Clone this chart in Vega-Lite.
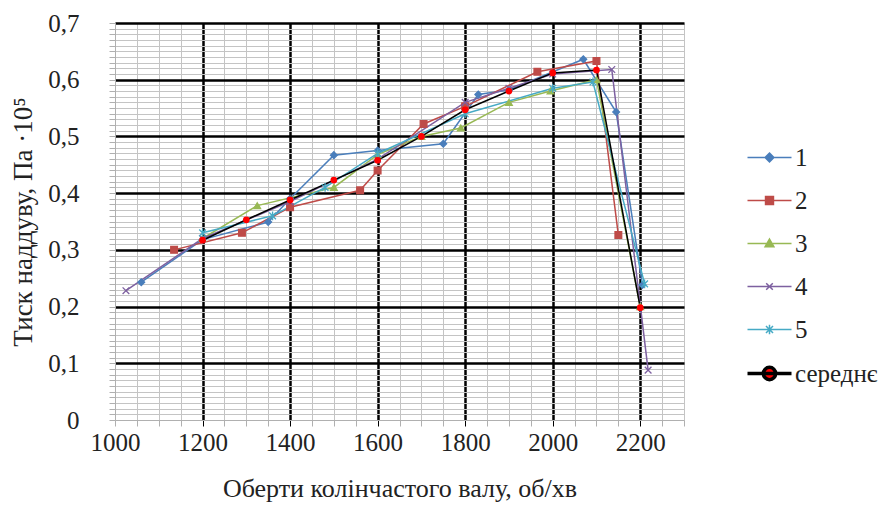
{
  "$schema": "https://vega.github.io/schema/vega-lite/v6.json",
  "autosize": "none",
  "width": 569,
  "height": 397,
  "padding": {"left": 115, "top": 23, "right": 204, "bottom": 97},
  "background": "white",
  "config": {
    "view": {"stroke": null},
    "font": "Liberation Serif",
    "axis": {"labelFont": "Liberation Serif", "titleFont": "Liberation Serif", "labelColor": "#222", "titleColor": "#222", "titleFontWeight": "normal"},
    "legend": {"labelFont": "Liberation Serif"}
  },
  "data": {
    "values": [
      {"series": "1", "rpm": 1060, "p": 0.243},
      {"series": "1", "rpm": 1200, "p": 0.318},
      {"series": "1", "rpm": 1350, "p": 0.349},
      {"series": "1", "rpm": 1400, "p": 0.39},
      {"series": "1", "rpm": 1500, "p": 0.467},
      {"series": "1", "rpm": 1600, "p": 0.475},
      {"series": "1", "rpm": 1750, "p": 0.487},
      {"series": "1", "rpm": 1830, "p": 0.574},
      {"series": "1", "rpm": 1900, "p": 0.582},
      {"series": "1", "rpm": 2070, "p": 0.636},
      {"series": "1", "rpm": 2145, "p": 0.543},
      {"series": "1", "rpm": 2205, "p": 0.238},
      {"series": "2", "rpm": 1135, "p": 0.30},
      {"series": "2", "rpm": 1290, "p": 0.33},
      {"series": "2", "rpm": 1400, "p": 0.375},
      {"series": "2", "rpm": 1560, "p": 0.405},
      {"series": "2", "rpm": 1600, "p": 0.44},
      {"series": "2", "rpm": 1705, "p": 0.522},
      {"series": "2", "rpm": 1800, "p": 0.553},
      {"series": "2", "rpm": 1965, "p": 0.614},
      {"series": "2", "rpm": 2100, "p": 0.633},
      {"series": "2", "rpm": 2150, "p": 0.326},
      {"series": "3", "rpm": 1200, "p": 0.32},
      {"series": "3", "rpm": 1325, "p": 0.378},
      {"series": "3", "rpm": 1500, "p": 0.41},
      {"series": "3", "rpm": 1600, "p": 0.468},
      {"series": "3", "rpm": 1700, "p": 0.5},
      {"series": "3", "rpm": 1790, "p": 0.515},
      {"series": "3", "rpm": 1900, "p": 0.56},
      {"series": "3", "rpm": 1995, "p": 0.58},
      {"series": "3", "rpm": 2100, "p": 0.6},
      {"series": "3", "rpm": 2200, "p": 0.2},
      {"series": "4", "rpm": 1025, "p": 0.228},
      {"series": "4", "rpm": 1200, "p": 0.32},
      {"series": "4", "rpm": 1400, "p": 0.385},
      {"series": "4", "rpm": 1600, "p": 0.46},
      {"series": "4", "rpm": 1800, "p": 0.56},
      {"series": "4", "rpm": 1900, "p": 0.585},
      {"series": "4", "rpm": 2000, "p": 0.61},
      {"series": "4", "rpm": 2135, "p": 0.618},
      {"series": "4", "rpm": 2218, "p": 0.088},
      {"series": "5", "rpm": 1200, "p": 0.33},
      {"series": "5", "rpm": 1360, "p": 0.36},
      {"series": "5", "rpm": 1480, "p": 0.41},
      {"series": "5", "rpm": 1600, "p": 0.47},
      {"series": "5", "rpm": 1800, "p": 0.54},
      {"series": "5", "rpm": 2000, "p": 0.585},
      {"series": "5", "rpm": 2092, "p": 0.596},
      {"series": "5", "rpm": 2210, "p": 0.24},
      {"series": "середнє", "rpm": 1200, "p": 0.317},
      {"series": "середнє", "rpm": 1300, "p": 0.353},
      {"series": "середнє", "rpm": 1400, "p": 0.388},
      {"series": "середнє", "rpm": 1500, "p": 0.423},
      {"series": "середнє", "rpm": 1600, "p": 0.458},
      {"series": "середнє", "rpm": 1700, "p": 0.5},
      {"series": "середнє", "rpm": 1800, "p": 0.547},
      {"series": "середнє", "rpm": 1900, "p": 0.58},
      {"series": "середнє", "rpm": 2000, "p": 0.612},
      {"series": "середнє", "rpm": 2100, "p": 0.617},
      {"series": "середнє", "rpm": 2200, "p": 0.198}
    ]
  },
  "encoding": {
    "x": {
      "field": "rpm", "type": "quantitative",
      "scale": {"domain": [1000, 2300], "nice": false, "zero": false},
      "axis": {
        "title": "Оберти колінчастого валу, об/хв",
        "titleFontSize": 26, "titlePadding": 20,
        "values": [1000,1050,1100,1150,1200,1250,1300,1350,1400,1450,1500,1550,1600,1650,1700,1750,1800,1850,1900,1950,2000,2050,2100,2150,2200,2250,2300],
        "labelExpr": "datum.value % 200 === 0 ? datum.label : ''",
        "labelFontSize": 25, "labelPadding": 4,
        "labelFlush": false,
        "format": "d",
        "grid": true,
        "gridColor": {"condition": {"test": "datum.value % 200 === 0 && datum.value !== 1000", "value": "#000000"}, "value": "#c4c4c4"},
        "gridWidth": {"condition": {"test": "datum.value % 200 === 0 && datum.value !== 1000", "value": 2.5}, "value": 1},
        "tickColor": {"condition": {"test": "datum.value % 200 === 0 && datum.value !== 1000", "value": "#000000"}, "value": "#b0b0b0"},
        "tickSize": 6,
        "domainColor": "#b0b0b0",
        "labelOverlap": false
      }
    },
    "y": {
      "field": "p", "type": "quantitative",
      "scale": {"domain": [0, 0.7], "nice": false},
      "axis": {
        "title": "Тиск наддуву, Па ·10⁵",
        "titleFontSize": 27, "titlePadding": 10,
        "values": [0,0.01,0.02,0.03,0.04,0.05,0.06,0.07,0.08,0.09,0.1,0.11,0.12,0.13,0.14,0.15,0.16,0.17,0.18,0.19,0.2,0.21,0.22,0.23,0.24,0.25,0.26,0.27,0.28,0.29,0.3,0.31,0.32,0.33,0.34,0.35,0.36,0.37,0.38,0.39,0.4,0.41,0.42,0.43,0.44,0.45,0.46,0.47,0.48,0.49,0.5,0.51,0.52,0.53,0.54,0.55,0.56,0.57,0.58,0.59,0.6,0.61,0.62,0.63,0.64,0.65,0.66,0.67,0.68,0.69,0.7],
        "labelExpr": "abs(datum.value*10 - round(datum.value*10)) < 0.001 ? (datum.value === 0 ? '0' : replace(format(datum.value, '.1f'), '.', ',')) : ''",
        "labelFontSize": 25, "labelPadding": 30,
        "labelFlush": false,
        "grid": true,
        "gridColor": {"condition": {"test": "abs(datum.value*10 - round(datum.value*10)) < 0.001 && datum.value > 0", "value": "#000000"}, "value": "#c4c4c4"},
        "gridWidth": {"condition": {"test": "abs(datum.value*10 - round(datum.value*10)) < 0.001 && datum.value > 0", "value": 2.5}, "value": 1},
        "tickColor": "#b0b0b0",
        "tickSize": 6,
        "domainColor": "#b0b0b0",
        "labelOverlap": false
      }
    }
  },
  "resolve": {"scale": {"stroke": "independent"}, "legend": {"stroke": "independent"}},
  "layer": [
    {
      "mark": {"type": "line"},
      "encoding": {
        "stroke": {
          "field": "series", "type": "nominal",
          "scale": {"domain": ["1","2","3","4","5","середнє"], "range": ["#4a7ebb","#be4b48","#98b954","#7d60a0","#46aac5","#000000"]},
          "legend": {
            "title": null,
            "orient": "none",
            "legendX": 642,
            "legendY": 122,
            "symbolSize": 1936,
            "symbolStrokeWidth": 1.5,
            "labelFont": "Liberation Serif",
            "labelFontSize": 25,
            "labelOffset": 13,
            "labelColor": "#222",
            "rowPadding": 17,
            "padding": 0,
            "encoding": {
              "symbols": {
                "shape": {"value": {"expr": "datum.value === '1' ? 'M-1,0H1M0,-0.2L0.2,0L0,0.2L-0.2,0Z' : datum.value === '2' ? 'M-1,0H1M-0.18,-0.18H0.18V0.18H-0.18Z' : datum.value === '3' ? 'M-1,0H1M0,-0.2L0.2,0.15H-0.2Z' : datum.value === '4' ? 'M-1,0H1M-0.15,-0.15L0.15,0.15M-0.15,0.15L0.15,-0.15' : datum.value === '5' ? 'M-1,0H1M-0.16,-0.16L0.16,0.16M-0.16,0.16L0.16,-0.16M0,-0.22V0.22' : 'M-1,0H1M-0.28,0A0.28,0.28 0 1,0 0.28,0A0.28,0.28 0 1,0 -0.28,0Z'"}},
                "fill": {"value": {"expr": "datum.value === '1' ? '#4a7ebb' : datum.value === '2' ? '#be4b48' : datum.value === '3' ? '#98b954' : datum.value === 'середнє' ? '#ff0000' : 'transparent'"}},
                "strokeWidth": {"value": {"expr": "datum.value === 'середнє' ? 3.5 : 1.5"}},
                "size": {"value": 1936},
                "opacity": {"value": 1}
              },
              "labels": {
                "font": {"value": "Liberation Serif"}
              }
            }
          }
        },
        "strokeWidth": {
          "field": "series", "type": "nominal",
          "scale": {"range": [1.5,1.5,1.5,1.5,1.5,3.5]},
          "legend": null
        }
      }
    },
    {
      "mark": {"type": "point", "filled": true, "opacity": 1},
      "encoding": {
        "shape": {
          "field": "series", "type": "nominal",
          "scale": {"range": ["diamond","square","triangle-up","M-1,-1L1,1M-1,1L1,-1","M-1,-1L1,1M-1,1L1,-1M0,-1.3V1.3","circle"]},
          "legend": null
        },
        "fill": {
          "field": "series", "type": "nominal",
          "scale": {"range": ["#4a7ebb","#be4b48","#98b954","#7d60a0","#46aac5","#ff0000"]},
          "legend": null
        },
        "stroke": {
          "field": "series", "type": "nominal",
          "scale": {"range": ["#4a7ebb","#be4b48","#98b954","#7d60a0","#46aac5","#ff0000"]},
          "legend": null
        },
        "size": {
          "field": "series", "type": "nominal",
          "scale": {"range": [45,45,45,45,55,170]},
          "legend": null
        },
        "strokeWidth": {"condition": {"test": "datum.series === 'середнє'", "value": 0}, "value": 1.3}
      }
    }
  ]
}
